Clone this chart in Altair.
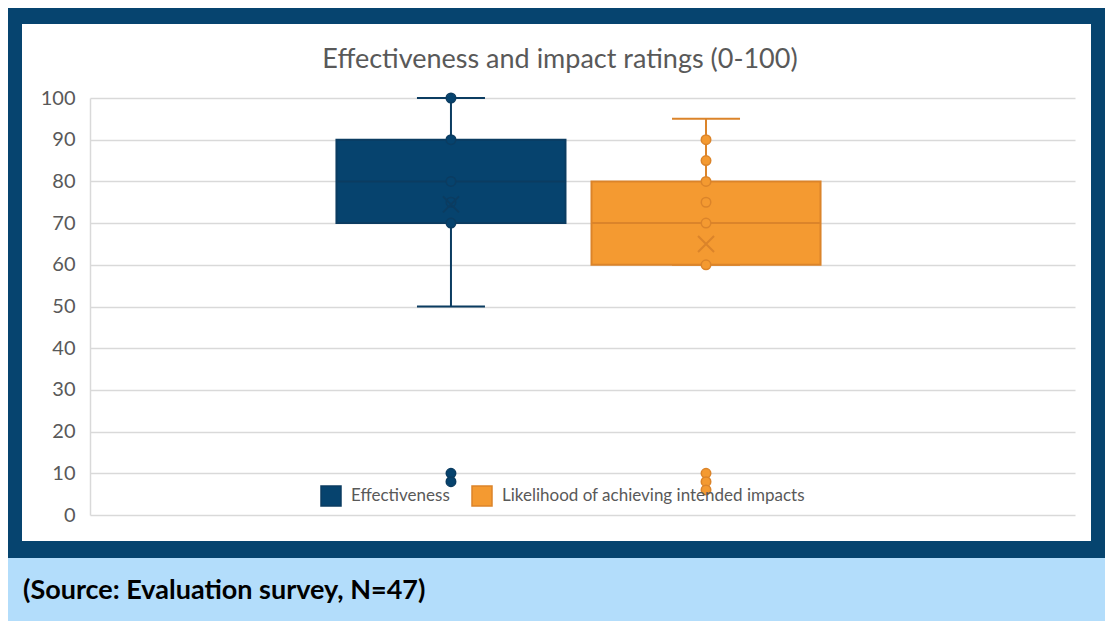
import altair as alt
import pandas as pd

# ---- data ----
series = ["Effectiveness", "Likelihood of achieving intended impacts"]
q1 = [70, 60]
median = [80, 70]
q3 = [90, 80]
whisker_low = [50, 60]
whisker_high = [100, 95]
mean = [74.5, 65]

eff_points = [100, 90, 80, 75, 70, 10, 8]
lik_points = [90, 85, 80, 75, 70, 60, 10, 8, 6]

y_ticks = [0, 10, 20, 30, 40, 50, 60, 70, 80, 90, 100]

title_text = "Effectiveness and impact ratings (0-100)"
caption_text = "(Source: Evaluation survey, N=47)"

# ---- styles ----
BLUE = "#06436e"
BLUE_LINE = "#0b3c61"
ORANGE = "#f49a31"
ORANGE_LINE = "#db842a"
FRAME = "#06446f"
LIGHT = "#b3ddfb"
GRID = "#d9d9d9"
TEXT = "#595959"
FONT = "Lato"

summary = pd.DataFrame(dict(series=series, q1=q1, median=median, q3=q3,
                            lo=whisker_low, hi=whisker_high, mean=mean))
points = pd.DataFrame({
    "series": [series[0]] * len(eff_points) + [series[1]] * len(lik_points),
    "value": eff_points + lik_points,
})
one = pd.DataFrame({"k": [0]})

x_enc = alt.X("series:N",
              scale=alt.Scale(domain=series, paddingInner=0.102,
                              paddingOuter=0.982, align=0.492),
              axis=None)
y_scale = alt.Scale(domain=[0, 100], nice=False)
y_axis = alt.Axis(values=y_ticks, title=None, labelFont=FONT, labelFontSize=20,
                  labelColor=TEXT, labelPadding=15, ticks=False, grid=True,
                  gridColor=GRID, gridWidth=1.5, domainColor=GRID, domainWidth=1.5)

legend = alt.Legend(title=None, orient="none", legendX=230, legendY=387,
                    direction="horizontal", symbolType="square", symbolSize=400,
                    symbolStrokeWidth=1.5, labelFont=FONT, labelFontSize=17,
                    labelColor=TEXT, labelOffset=9, columnPadding=19, padding=0,
                    labelLimit=600)
fill_enc = alt.Fill("series:N", scale=alt.Scale(domain=series, range=[BLUE, ORANGE]),
                    legend=legend)
stroke_enc = alt.Stroke("series:N",
                        scale=alt.Scale(domain=series, range=[BLUE_LINE, ORANGE_LINE]),
                        legend=legend)


def Y(field):
    return alt.Y(f"{field}:Q", scale=y_scale, axis=y_axis)


base = alt.Chart(summary)

whiskers = base.mark_rule(strokeWidth=2).encode(
    x=x_enc, y=Y("lo"), y2="hi:Q", stroke=stroke_enc)
cap_hi = base.mark_bar(width=68, strokeWidth=2, fill="transparent").encode(
    x=x_enc, y=Y("hi"), y2="hi:Q", stroke=stroke_enc)
cap_lo = base.mark_bar(width=68, strokeWidth=2, fill="transparent").encode(
    x=x_enc, y=Y("lo"), y2="lo:Q", stroke=stroke_enc)
boxes = base.mark_bar(strokeWidth=2).encode(
    x=x_enc, y=Y("q1"), y2="q3:Q", fill=fill_enc, stroke=stroke_enc)
medians = base.mark_bar(strokeWidth=2, fill="transparent").encode(
    x=x_enc, y=Y("median"), y2="median:Q", stroke=stroke_enc)
pts = alt.Chart(points).mark_point(shape="circle", filled=True, size=90,
                                   strokeWidth=1.5, opacity=1).encode(
    x=x_enc, y=Y("value"), fill=fill_enc, stroke=stroke_enc)
means = base.mark_point(shape="M-1,-1L1,1M-1,1L1,-1", filled=False, size=256,
                        strokeWidth=2, opacity=1).encode(
    x=x_enc, y=Y("mean"), stroke=stroke_enc)

# frame (drawn outside the white content area)
def frame_rect(x1, x2, y1, y2, color):
    return alt.Chart(one).mark_rect(color=color).encode(
        x=alt.value(x1), x2=alt.value(x2), y=alt.value(y1), y2=alt.value(y2))

frame_top = frame_rect(-82, 1015, -90, -74, FRAME)
frame_left = frame_rect(-82, -68, -90, 460, FRAME)
frame_right = frame_rect(1001, 1015, -90, 460, FRAME)
frame_bottom = frame_rect(-82, 1015, 443, 460, FRAME)
caption_box = frame_rect(-82, 1015, 460, 523, LIGHT)

title = alt.Chart(one).mark_text(text=title_text, font=FONT, fontSize=27,
                                 color=TEXT, align="center",
                                 baseline="alphabetic").encode(
    x=alt.value(470), y=alt.value(-30))
caption = alt.Chart(one).mark_text(text=caption_text, font=FONT, fontSize=27,
                                   fontWeight="bold", color="#000000",
                                   align="left", baseline="alphabetic").encode(
    x=alt.value(-67), y=alt.value(501))

chart = alt.layer(
    whiskers, cap_hi, cap_lo, boxes, medians, pts, means,
    frame_top, frame_left, frame_right, frame_bottom, caption_box,
    title, caption,
).properties(
    width=985, height=417,
    padding={"left": 82, "top": 90, "right": 30, "bottom": 106},
    autosize=alt.AutoSizeParams(type="none"),
).configure(background="#ffffff").configure_view(stroke=None)

chart.save("out.html", embed_options={"renderer": "svg", "actions": False})
